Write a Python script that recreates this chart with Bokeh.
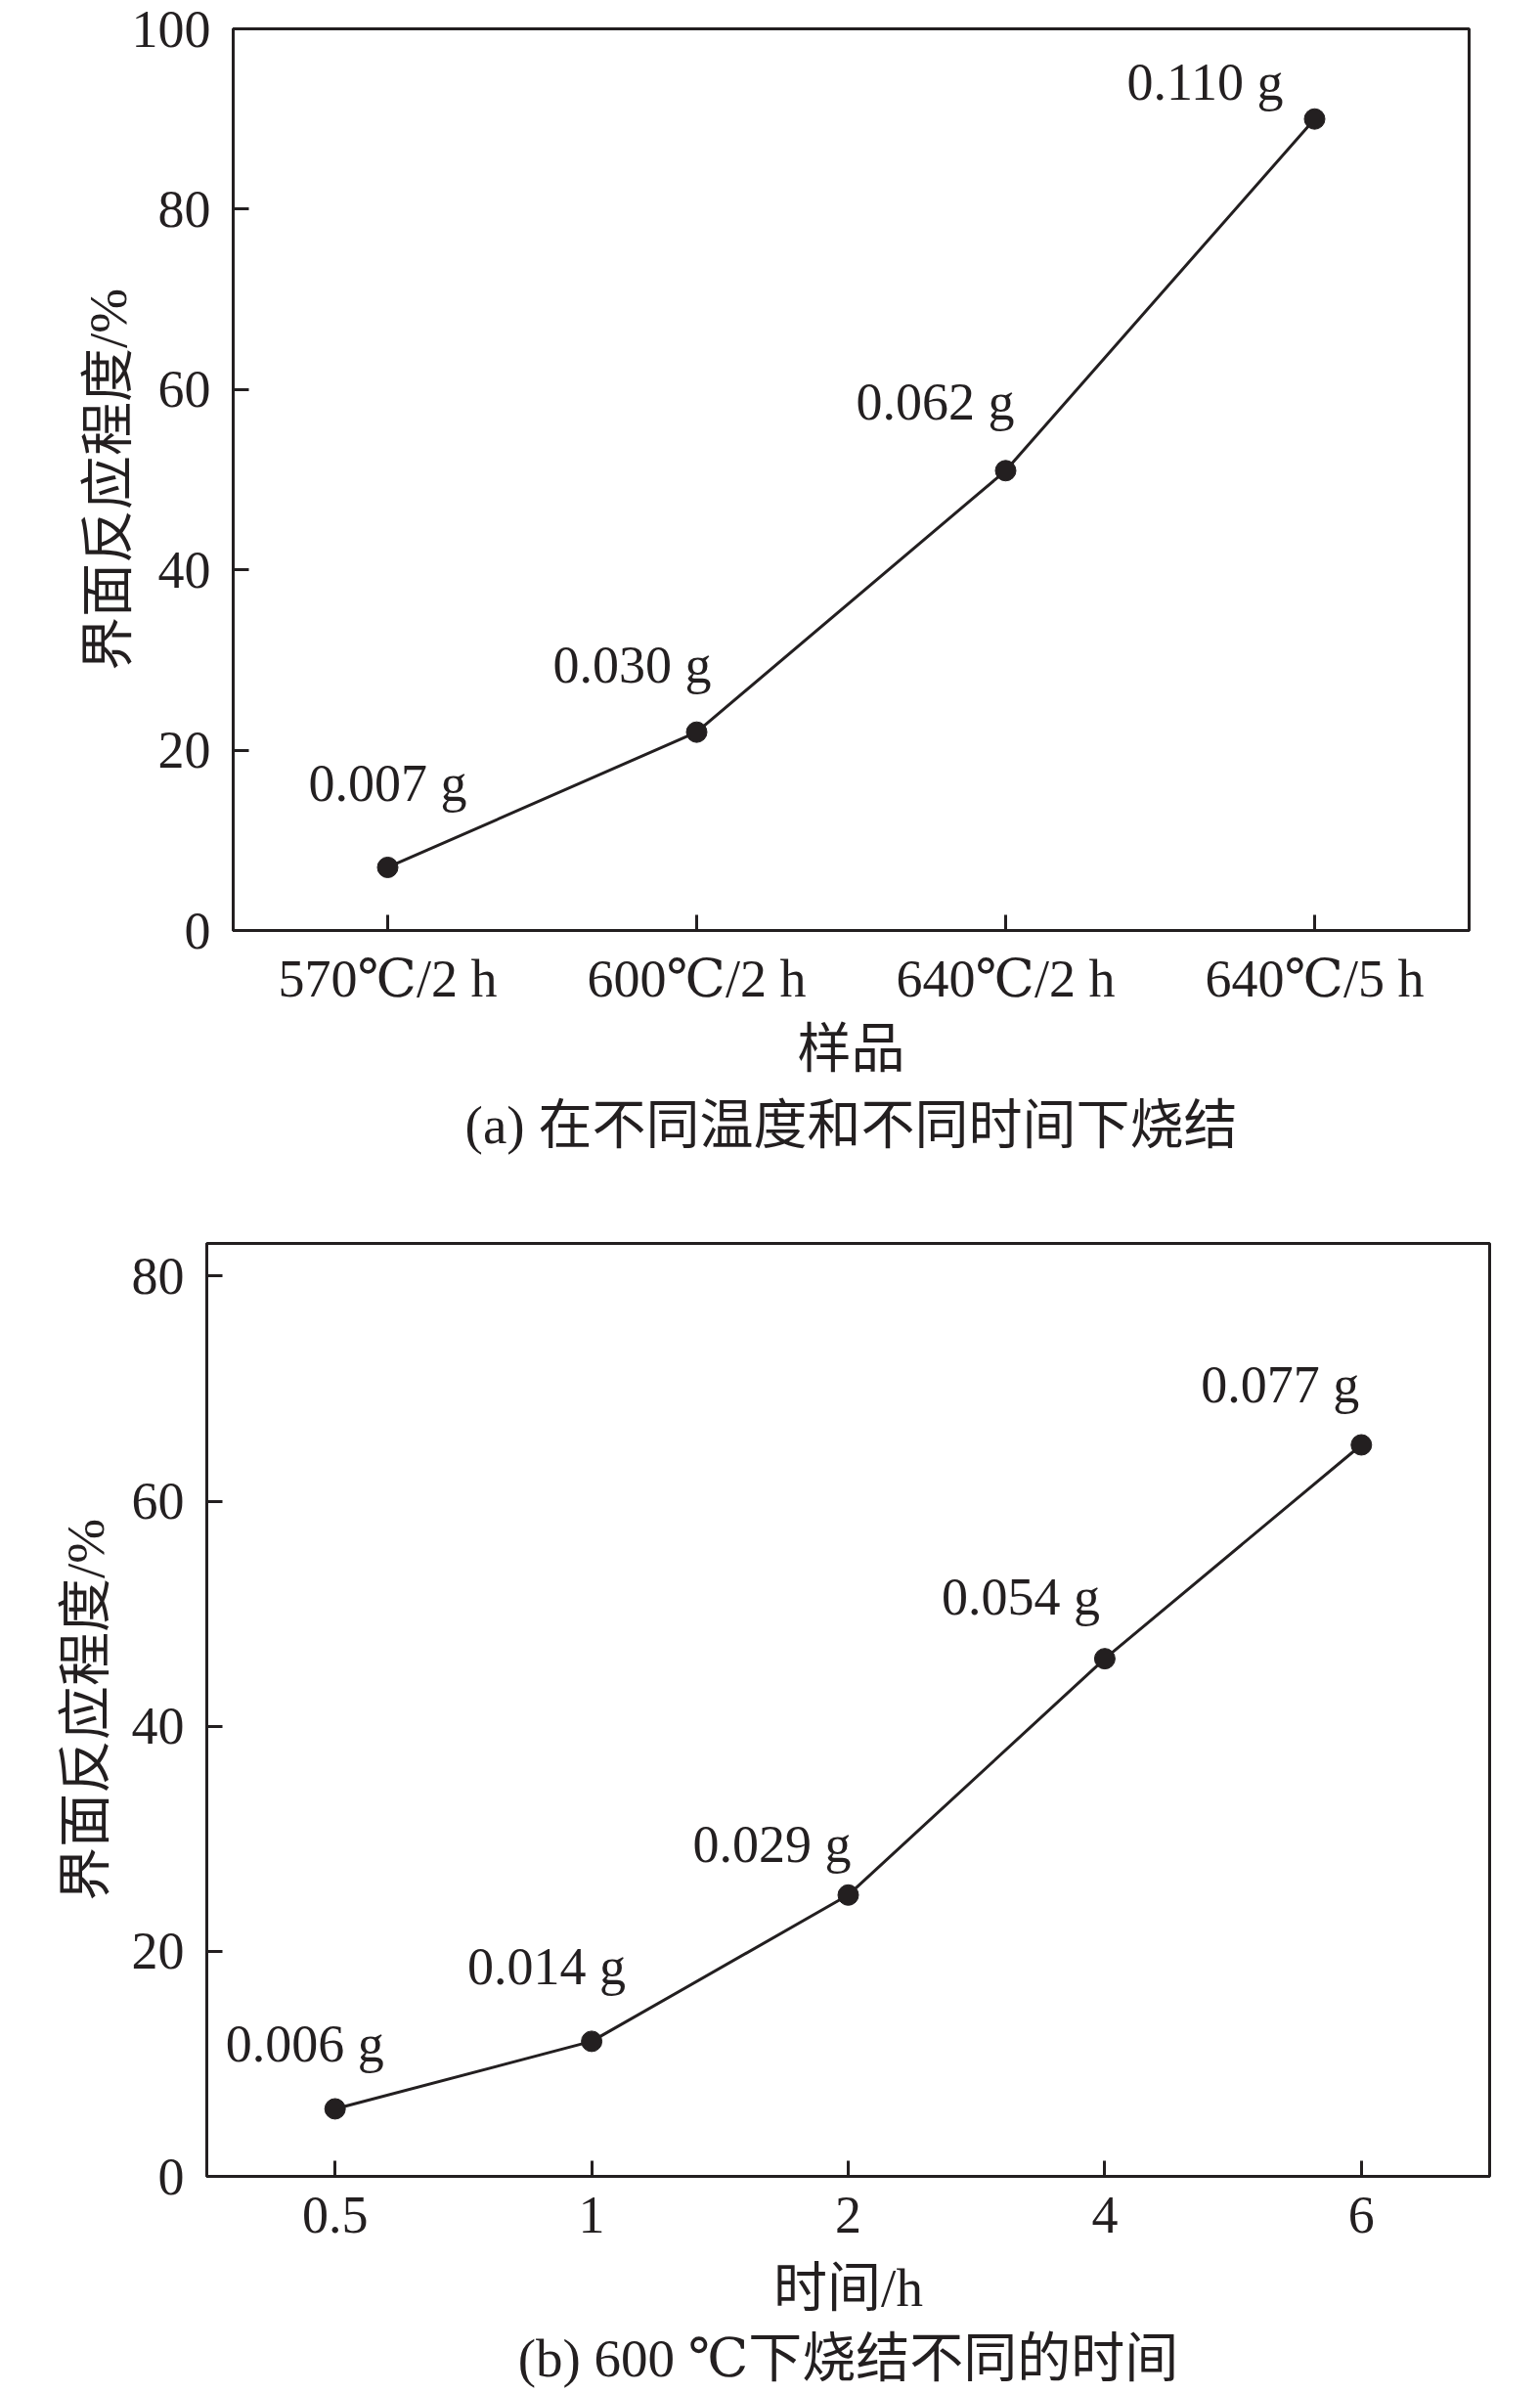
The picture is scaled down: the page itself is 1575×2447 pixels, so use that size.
from bokeh.plotting import figure
from bokeh.models import ColumnDataSource, FactorRange, Range1d, Title, FixedTicker
from bokeh.embed import file_html
from bokeh.resources import INLINE
from bokeh.core.properties import value

# ---------------- data ----------------
samples_a = ["570℃/2 h", "600℃/2 h", "640℃/2 h", "640℃/5 h"]
degree_a = [7, 22, 51, 90]
mass_a = ["0.007 g", "0.030 g", "0.062 g", "0.110 g"]
yticks_a = [0, 20, 40, 60, 80, 100]

times_b = ["0.5", "1", "2", "4", "6"]
degree_b = [6, 12, 25, 46, 65]
mass_b = ["0.006 g", "0.014 g", "0.029 g", "0.054 g", "0.077 g"]
yticks_b = [0, 20, 40, 60, 80]

# label placement (screen pixel offsets from each point)
label_dx_a = [0, -66, -72, -112]
label_dy_a = [-86, -69, -70, -38]
label_dx_b = [-31, -46, -78, -86, -83]
label_dy_b = [-66, -76, -52, -63, -61]

INK = "#231f20"
FONT = "'Liberation Serif', 'DejaVu Serif', 'Noto Sans CJK SC'"
TICK_SIZE = "54px"
TITLE_SIZE = "55px"


def make_panel(cats, vals, labels, dx, dy, yticks, ymax, xlabel, caption,
               width, height, bl, br, bt, bb, xstand, xlabstand, ylabstand, capstand):
    p = figure(x_range=FactorRange(factors=cats), y_range=Range1d(0, ymax),
               width=width, height=height, output_backend="svg",
               toolbar_location=None,
               min_border_left=bl, min_border_right=br,
               min_border_top=bt, min_border_bottom=bb)
    p.background_fill_color = "white"
    p.border_fill_color = "white"
    p.outline_line_color = INK
    p.outline_line_width = 3
    p.outline_line_alpha = 1
    p.grid.visible = False

    p.yaxis.ticker = FixedTicker(ticks=yticks)
    for ax in (p.xaxis[0], p.yaxis[0]):
        ax.axis_line_color = INK
        ax.axis_line_width = 3
        ax.major_tick_in = 16
        ax.major_tick_out = 0
        ax.major_tick_line_color = INK
        ax.major_tick_line_width = 3
        ax.minor_tick_line_color = None
        ax.major_label_text_font = FONT
        ax.major_label_text_font_size = TICK_SIZE
        ax.major_label_text_color = INK
        ax.axis_label_text_font = FONT
        ax.axis_label_text_font_size = TITLE_SIZE
        ax.axis_label_text_font_style = "normal"
        ax.axis_label_text_color = INK
    p.xaxis[0].major_label_standoff = xstand
    p.yaxis[0].major_label_standoff = 23
    p.xaxis[0].axis_label = xlabel
    p.xaxis[0].axis_label_standoff = xlabstand
    p.yaxis[0].axis_label = "界面反应程度/%"
    p.yaxis[0].axis_label_standoff = ylabstand

    src = ColumnDataSource(dict(x=cats, y=vals, label=labels, dx=dx, dy=dy))
    p.line(x="x", y="y", source=src, line_color=INK, line_width=3)
    p.scatter(x="x", y="y", source=src, size=21, fill_color=INK, line_color=INK)
    p.text(x="x", y="y", text="label", x_offset="dx", y_offset="dy", source=src,
           text_align="center", text_baseline="middle",
           text_font=value(FONT), text_font_size=TICK_SIZE, text_color=INK)

    cap = Title(text=caption, align="center", text_font=FONT,
                text_font_size=TITLE_SIZE, text_font_style="normal",
                text_color=INK, standoff=capstand)
    p.add_layout(cap, "below")
    return p


pa = make_panel(samples_a, degree_a, mass_a, label_dx_a, label_dy_a, yticks_a, 100,
                "样品", "(a) 在不同温度和不同时间下烧结",
                width=1575, height=1200, bl=238, br=73, bt=29, bb=249,
                xstand=19, xlabstand=8, ylabstand=-9, capstand=24)

pb = make_panel(times_b, degree_b, mass_b, label_dx_b, label_dy_b, yticks_b, 82.9,
                "时间/h", "(b) 600 ℃下烧结不同的时间",
                width=1575, height=1247, bl=211, br=52, bt=71, bb=221,
                xstand=21, xlabstand=23, ylabstand=14, capstand=12)

# two independent roots stacked on the page (no frame alignment between them)
open("out.html", "w").write(file_html([pa, pb], INLINE))
